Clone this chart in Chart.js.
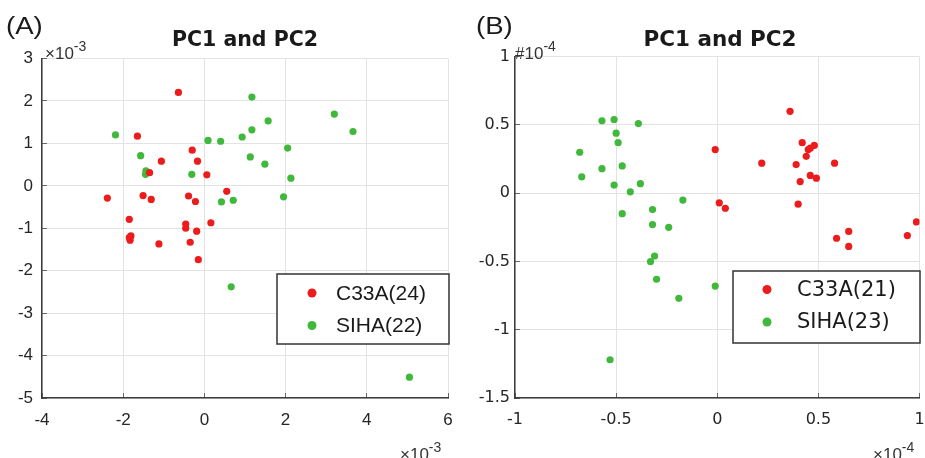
<!DOCTYPE html>
<html>
<head>
<meta charset="utf-8">
<script src="https://cdn.jsdelivr.net/npm/chart.js@4.4.1/dist/chart.umd.min.js"></script>
<style>
  body { margin: 0; background: #fff; width: 925px; height: 458px; overflow: hidden; }
  .panel { position: absolute; top: 0; height: 458px; }
  .txt { position: absolute; color: #1a1a1a; white-space: nowrap; line-height: 1; }
  .tag { font-family: "Liberation Sans", Arial, sans-serif; font-size: 23px; transform: scaleX(1.2); transform-origin: left top; }
  .ttl { font-family: "DejaVu Sans", Verdana, sans-serif; font-weight: bold; transform: translate(-50%, -50%); }
  .exp { font-family: "Liberation Sans", Arial, sans-serif; font-size: 17px; color: #333; }
  .exp sup { font-size: 14px; vertical-align: 8px; }
</style>
</head>
<body>
<div class="panel" style="left:0;width:460px"><canvas id="chartA" width="460" height="458"></canvas></div>
<div class="panel" style="left:460px;width:465px"><canvas id="chartB" width="465" height="458"></canvas></div>

<div class="txt tag" style="left:6px;top:15px">(A)</div>
<div class="txt ttl" style="left:245px;top:39px;font-size:20.5px">PC1 and PC2</div>
<div class="txt exp" style="left:45px;top:39px">×10<sup>-3</sup></div>
<div class="txt exp" style="left:400px;top:440px">×10<sup>-3</sup></div>

<div class="txt tag" style="left:476px;top:15px">(B)</div>
<div class="txt ttl" style="left:720px;top:39px;font-size:21.5px">PC1 and PC2</div>
<div class="txt exp" style="left:515px;top:39px">#10<sup>-4</sup></div>
<div class="txt exp" style="left:873px;top:440px">×10<sup>-4</sup></div>

<script>
  // panel A, units of 1e-3
  const c33aA_x = [-0.64, -1.65, -0.30, -0.17, -1.06, -1.35, 0.06, -2.39, -1.51, -1.31, -0.39, -0.22, 0.55, -1.85, -0.46, -0.46, 0.16, -0.19, -1.81, -1.83, -1.85, -1.12, -0.35, -0.15];
  const c33aA_y = [2.20, 1.17, 0.84, 0.58, 0.58, 0.31, 0.26, -0.29, -0.23, -0.32, -0.24, -0.37, -0.13, -0.79, -0.90, -1.00, -0.87, -1.07, -1.18, -1.28, -1.22, -1.37, -1.33, -1.74];
  const sihaA_x = [-2.19, 1.17, 1.57, 3.20, 3.66, 1.17, 0.93, 0.09, 0.40, 2.05, -1.57, 1.13, 1.49, -1.44, -1.45, -0.31, 2.13, 1.95, 0.42, 0.71, 0.66, 5.05];
  const sihaA_y = [1.20, 2.09, 1.53, 1.69, 1.28, 1.32, 1.15, 1.07, 1.05, 0.89, 0.71, 0.68, 0.51, 0.35, 0.27, 0.27, 0.18, -0.26, -0.38, -0.34, -2.38, -4.51];

  // panel B, units of 1e-4
  const c33aB_x = [0.36, -0.01, 0.22, 0.42, 0.48, 0.45, 0.44, 0.39, 0.58, 0.46, 0.49, 0.41, 0.40, 0.01, 0.04, 0.985, 0.65, 0.59, 0.65, 0.94, 0.46];
  const c33aB_y = [0.60, 0.32, 0.22, 0.37, 0.35, 0.32, 0.27, 0.21, 0.22, 0.13, 0.11, 0.085, -0.08, -0.07, -0.11, -0.21, -0.28, -0.33, -0.39, -0.31, 0.33];
  const sihaB_x = [-0.68, -0.67, -0.57, -0.51, -0.39, -0.50, -0.49, -0.57, -0.47, -0.51, -0.38, -0.43, -0.17, -0.47, -0.32, -0.32, -0.24, -0.31, -0.33, -0.30, -0.19, -0.01, -0.53];
  const sihaB_y = [0.30, 0.12, 0.53, 0.54, 0.51, 0.44, 0.37, 0.18, 0.20, 0.06, 0.07, 0.01, -0.05, -0.15, -0.12, -0.23, -0.25, -0.46, -0.50, -0.63, -0.77, -0.68, -1.22];

  const labelsA = ['C33A(24)', 'SIHA(22)'];
  const labelsB = ['C33A(21)', 'SIHA(23)'];
  const xTicksA = [-4, -2, 0, 2, 4, 6];
  const yTicksA = [-5, -4, -3, -2, -1, 0, 1, 2, 3];
  const xTicksB = [-1, -0.5, 0, 0.5, 1];
  const yTicksB = [-1.5, -1, -0.5, 0, 0.5, 1];

  const RED = '#ec1c1c';
  const GREEN = '#3fb83c';

  function toPoints(xs, ys) {
    return xs.map((x, i) => ({ x: x, y: ys[i] }));
  }

  // legend drawn inside the axes, like matlab's box legend
  const boxLegend = {
    id: 'boxLegend',
    afterDraw(chart, args, o) {
      const ctx = chart.ctx;
      ctx.save();
      ctx.fillStyle = '#fff';
      ctx.fillRect(o.left, o.top, o.width, o.height);
      ctx.strokeStyle = '#333';
      ctx.lineWidth = 1.5;
      ctx.strokeRect(o.left, o.top, o.width, o.height);
      ctx.font = o.font;
      ctx.textBaseline = 'middle';
      chart.data.datasets.forEach((ds, i) => {
        const cy = o.top + o.firstRow + i * o.rowGap;
        ctx.fillStyle = ds.backgroundColor;
        ctx.beginPath();
        ctx.arc(o.dotX, cy, 4.5, 0, Math.PI * 2);
        ctx.fill();
        ctx.fillStyle = '#1a1a1a';
        ctx.fillText(ds.label, o.textX, cy + 1);
      });
      ctx.restore();
    }
  };

  function makeScale(min, max, ticks, font, pad, fit) {
    return {
      type: 'linear',
      min: min,
      max: max,
      afterBuildTicks: s => { s.ticks = ticks.map(v => ({ value: v })); },
      afterFit: s => {
        fit(s);
        // keep label overhang from shrinking the plot area
        s.paddingLeft = 0; s.paddingRight = 0; s.paddingTop = 0; s.paddingBottom = 0;
      },
      ticks: {
        color: '#262626',
        font: font,
        padding: pad + 5,
        callback: v => String(v)
      },
      // negative tick length draws the marks inward, matlab style
      grid: { color: '#e3e3e3', lineWidth: 1, drawTicks: true, tickLength: -5, tickColor: '#666', tickWidth: 1 },
      border: { color: '#3c3c3c', width: 1.5 }
    };
  }

  function makeChart(id, sets, labels, sc, legend, padRight, padTop) {
    new Chart(document.getElementById(id), {
      type: 'scatter',
      data: {
        datasets: sets.map((pts, i) => ({
          label: labels[i],
          data: pts,
          backgroundColor: i === 0 ? RED : GREEN,
          borderWidth: 0,
          pointRadius: 3.6
        }))
      },
      options: {
        responsive: false,
        animation: false,
        layout: { padding: { top: padTop, right: padRight, left: 0, bottom: 0 } },
        plugins: { legend: { display: false }, tooltip: { enabled: false }, boxLegend: legend },
        scales: sc
      },
      plugins: [boxLegend]
    });
  }

  const fontA = { family: '"Liberation Sans", Arial, sans-serif', size: 17 };
  const fontB = { family: '"DejaVu Sans", Verdana, sans-serif', size: 16 };

  makeChart('chartA',
    [toPoints(c33aA_x, c33aA_y), toPoints(sihaA_x, sihaA_y)],
    labelsA,
    {
      x: makeScale(-4, 6, xTicksA, fontA, 12, s => { s.height = 60; }),
      y: makeScale(-5, 3, yTicksA, fontA, 9, s => { s.width = 42; })
    },
    { left: 277, top: 274, width: 172, height: 70, dotX: 312, textX: 336,
      firstRow: 19, rowGap: 32.5, font: '21px "Liberation Sans", Arial, sans-serif' },
    12, 58.5);

  makeChart('chartB',
    [toPoints(c33aB_x, c33aB_y), toPoints(sihaB_x, sihaB_y)],
    labelsB,
    {
      x: makeScale(-1, 1, xTicksB, fontB, 12, s => { s.height = 60; }),
      y: makeScale(-1.5, 1, yTicksB, fontB, 5, s => { s.width = 55; })
    },
    { left: 273, top: 271, width: 187, height: 72, dotX: 307, textX: 337,
      firstRow: 18.5, rowGap: 32.5, font: '21px "DejaVu Sans", Verdana, sans-serif' },
    5.5, 56.7);
</script>
</body>
</html>
